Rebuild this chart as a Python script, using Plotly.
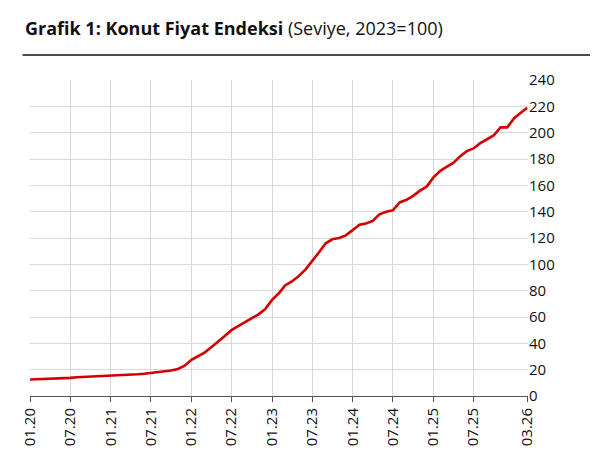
import plotly.graph_objects as go
import pandas as pd

dates = pd.date_range("2020-01-01", "2026-03-01", freq="MS")
values = [
    12.5, 12.7, 12.8, 12.9, 13.0, 13.3, 13.8, 14.2, 14.4, 14.6, 14.8, 15.0,
    15.3, 15.5, 15.8, 16.1, 16.5, 16.9, 17.4, 17.9, 18.5, 19.3, 20.5, 23.0,
    27.5, 30.5, 33.0, 37.0, 41.0, 45.5, 50.0, 53.0, 56.0, 59.0, 62.0, 66.0,
    73.0, 78.0, 84.0, 87.0, 91.0, 96.0, 102.0, 109.0, 116.0, 119.0, 120.0, 122.0,
    126.0, 130.0, 131.0, 133.0, 138.0, 140.0, 141.0, 147.0, 149.0, 152.0, 156.0, 159.0,
    166.0, 171.0, 174.0, 177.0, 182.0, 186.0, 188.0, 192.0, 195.0, 198.0, 204.0, 204.0,
    211.0, 215.0, 219.0,
]
tick_dates = ["2020-01-01", "2020-07-01", "2021-01-01", "2021-07-01", "2022-01-01", "2022-07-01",
              "2023-01-01", "2023-07-01", "2024-01-01", "2024-07-01", "2025-01-01", "2025-07-01", "2026-03-01"]
tick_labels = ["01.20", "07.20", "01.21", "07.21", "01.22", "07.22", "01.23", "07.23",
               "01.24", "07.24", "01.25", "07.25", "03.26"]

fig = go.Figure(go.Scatter(x=dates, y=values, mode="lines",
                           line=dict(color="#d40000", width=2.6), hoverinfo="skip"))
fig.update_layout(
    width=598, height=471, plot_bgcolor="white", paper_bgcolor="white",
    margin=dict(l=22, r=78, t=72, b=83), showlegend=False,
    font=dict(family="Open Sans", size=15, color="#111"),
    xaxis=dict(range=["2020-01-01", "2026-03-05"], tickvals=tick_dates, ticktext=tick_labels,
               tickangle=-90, showgrid=True, gridcolor="#d9d9d9", ticks="outside",
               ticklen=5, tickcolor="#555", showline=True, linecolor="#555", automargin=False),
    yaxis=dict(side="right", range=[0, 240], dtick=20, showgrid=True, gridcolor="#d9d9d9",
               zeroline=False, ticks="", showline=False, automargin=False),
    annotations=[dict(xref="paper", yref="paper", x=-0.015, y=1.165, xanchor="left", yanchor="middle",
                      showarrow=False, font=dict(size=18),
                      text="<b>Grafik 1: Konut Fiyat Endeksi</b> (Seviye, 2023=100)")],
    shapes=[dict(type="line", xref="paper", yref="paper", x0=-0.015, x1=1.145, y0=1.079, y1=1.079,
                 line=dict(color="#111", width=1.5))],
)
fig.write_html("out.html")
